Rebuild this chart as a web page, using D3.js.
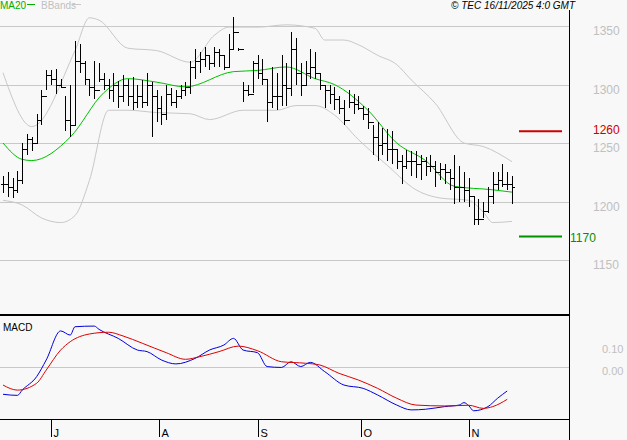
<!DOCTYPE html>
<html><head><meta charset="utf-8">
<script src="https://cdn.jsdelivr.net/npm/d3@7"></script>
<style>body{margin:0;background:#f8f8f8}svg{display:block}text{font-family:"Liberation Sans",Arial,sans-serif}</style>
</head><body><svg width="627" height="440"></svg>
<script>
// daily bars: [high, low, close]
const bars = [
 [1222,1207,1215],[1225,1204,1212],[1220,1203,1210],[1226,1207,1218],[1250,1215,1245],
 [1258,1240,1253],[1255,1243,1250],[1275,1250,1270],[1295,1265,1290],[1312,1295,1308],
 [1312,1300,1305],[1313,1292,1300],[1305,1297,1298],[1290,1260,1270],[1300,1255,1265],
 [1337,1265,1320],[1335,1310,1318],[1320,1300,1305],[1305,1290,1298],[1320,1288,1295],
 [1318,1302,1305],[1310,1295,1300],[1305,1288,1295],[1310,1285,1300],[1303,1280,1290],
 [1308,1285,1300],[1305,1282,1290],[1306,1278,1285],[1300,1280,1290],[1304,1280,1285],
 [1310,1282,1300],[1302,1255,1290],[1295,1268,1280],[1290,1265,1275],[1300,1270,1292],
 [1297,1282,1285],[1295,1280,1290],[1300,1288,1295],[1302,1290,1298],[1320,1292,1315],
 [1330,1305,1320],[1328,1310,1322],[1332,1315,1325],[1325,1312,1318],[1332,1315,1328],
 [1330,1315,1325],[1325,1312,1315],[1343,1315,1330],[1358,1330,1345],[1331,1329,1330],
 [1302,1285,1295],[1300,1290,1292],[1320,1293,1318],[1325,1305,1310],[1322,1300,1305],
 [1305,1268,1285],[1315,1280,1290],[1310,1278,1290],[1325,1282,1300],[1318,1282,1297],
 [1345,1290,1330],[1340,1300,1310],[1318,1290,1300],[1320,1300,1310],[1330,1305,1315],
 [1328,1305,1310],[1310,1295,1300],[1300,1280,1295],[1300,1283,1292],[1298,1278,1288],
 [1290,1275,1280],[1287,1265,1270],[1295,1280,1285],[1292,1275,1283],[1290,1278,1280],
 [1282,1270,1275],[1280,1262,1268],[1265,1240,1255],[1268,1235,1248],[1263,1240,1250],
 [1262,1235,1245],[1260,1232,1245],[1245,1228,1235],[1240,1215,1230],[1244,1228,1235],
 [1243,1222,1235],[1243,1220,1232],[1240,1218,1235],[1238,1222,1230],[1240,1225,1230],
 [1235,1212,1225],[1233,1218,1228],[1232,1215,1225],[1228,1210,1220],[1240,1198,1212],
 [1230,1200,1212],[1225,1200,1210],[1220,1195,1205],[1205,1180,1185],[1202,1180,1185],
 [1200,1186,1192],[1212,1190,1205],[1225,1198,1215],[1225,1210,1218],[1232,1212,1215],
 [1225,1210,1215],[1222,1198,1212]
];
// indicator lines: [bar index, value]
const ma20 = [[0,1250],[4,1236],[6,1235],[14,1255],[21,1293],[26,1305],[32,1302],[38,1298],[48,1311],[53,1312],[59,1315],[65,1305],[69,1300],[76,1278],[82,1250],[88,1235],[94,1213],[102,1210],[106,1208]];
const bbUpper = [[0,1310],[6,1264],[15,1329],[18,1357],[20,1355],[26,1331],[32,1329],[39,1319],[44,1342],[47,1349],[53,1349],[59,1351],[65,1348],[67,1338],[71,1338],[74,1334],[78,1325],[82,1317],[85,1304],[90,1284],[96,1250],[100,1247],[106,1234]];
const bbLower = [[0,1201],[4,1197],[8,1186],[12,1182],[15,1188],[18,1218],[22,1278],[26,1278],[32,1276],[39,1275],[43,1270],[50,1278],[57,1278],[61,1282],[65,1282],[69,1274],[74,1253],[80,1231],[86,1210],[91,1203],[97,1201],[100,1191],[102,1182],[106,1183]];
const macd = [[0,-12.4],[3,-12.9],[4,-10.5],[7,-4.4],[9,3.2],[12,16.4],[14,14.5],[15,18.3],[19,18.6],[20,17.1],[24,13.0],[28,7.7],[30,7.0],[33,3.2],[36,1.4],[40,3.9],[43,7.7],[46,10.0],[48,13.0],[50,7.7],[53,6.5],[55,0.2],[58,-0.2],[60,2.4],[62,0.2],[64,2.1],[67,-2.1],[71,-8.2],[75,-9.7],[78,-12.7],[82,-17.3],[85,-19.5],[88,-19.2],[92,-18.0],[95,-17.3],[96,-16.2],[97,-17.6],[98,-19.9],[101,-18.0],[103,-14.2],[105,-10.9]];
const signal = [[0,-8.2],[3,-10.5],[7,-7.4],[9,-1.4],[12,7.7],[14,11.5],[18,15.0],[22,15.8],[25,14.1],[29,10.8],[34,6.5],[38,3.5],[41,4.7],[45,7.0],[49,9.5],[53,7.4],[58,2.4],[63,1.7],[66,0.9],[70,-2.9],[74,-5.9],[78,-9.7],[82,-14.2],[86,-17.3],[92,-17.7],[97,-17.4],[100,-18.8],[102,-18.0],[105,-14.7]];
const priceTicks = [1150,1200,1250,1300,1350];
const macdTicks = [0, 10];
const months = [["J",10],["A",32.5],["S",53],["O",74.5],["N",97]];
const support = 1170, resistance = 1260;

const svg = d3.select("svg");
const plotR = 569;
const x = d3.scaleLinear().domain([0, 106]).range([3, 512]);
const y = d3.scaleLinear().domain([1150, 1350]).range([260, 26]);
const ym = d3.scaleLinear().domain([0, 10]).range([367, 345]);

// grid
svg.append("g").selectAll("line").data(priceTicks).join("line")
  .attr("x1", 0).attr("x2", plotR).attr("y1", d => Math.round(y(d)) + 0.5).attr("y2", d => Math.round(y(d)) + 0.5)
  .attr("stroke", "#c8c8c8");
svg.append("line").attr("x1", 0).attr("x2", plotR).attr("y1", ym(0) + 0.5).attr("y2", ym(0) + 0.5).attr("stroke", "#c8c8c8");

// price axis (right)
const ay = d3.axisRight(y).tickValues(priceTicks).tickSize(0).tickPadding(24).tickFormat(d3.format("d"));
svg.append("g").attr("transform", `translate(${plotR},5)`).call(ay)
  .call(g => g.select(".domain").remove())
  .selectAll("text").attr("fill", "#c0c0c0").style("font-size", "12px");
const am = d3.axisRight(ym).tickValues(macdTicks).tickSize(0).tickPadding(33)
  .tickFormat(d => d === 0 ? "0.00" : "0.10");
svg.append("g").attr("transform", `translate(${plotR},4)`).call(am)
  .call(g => g.select(".domain").remove())
  .selectAll("text").attr("fill", "#c0c0c0").style("font-size", "11px");

// bands and MA
const line = (ys) => d3.line().x(d => x(d[0])).y(d => ys(d[1])).curve(d3.curveMonotoneX);
svg.append("path").datum(bbUpper).attr("d", line(y)).attr("fill", "none").attr("stroke", "#c8c8c8");
svg.append("path").datum(bbLower).attr("d", line(y)).attr("fill", "none").attr("stroke", "#c8c8c8");
svg.append("path").datum(ma20).attr("d", line(y)).attr("fill", "none").attr("stroke", "#00c000");

// OHLC bars
const gb = svg.append("g").attr("stroke", "#000").attr("shape-rendering", "crispEdges");
bars.forEach((b, i) => {
  const open = i ? bars[i - 1][2] : b[2];
  const cx = Math.round(x(i)) + 0.5;
  gb.append("line").attr("x1", cx).attr("x2", cx).attr("y1", y(b[0])).attr("y2", y(b[1])).attr("stroke-width", 1.4);
  gb.append("line").attr("x1", cx - 2.5).attr("x2", cx).attr("y1", Math.round(y(open)) + 0.5).attr("y2", Math.round(y(open)) + 0.5);
  gb.append("line").attr("x1", cx).attr("x2", cx + 2.5).attr("y1", Math.round(y(b[2])) + 0.5).attr("y2", Math.round(y(b[2])) + 0.5);
});

// support / resistance
svg.append("line").attr("x1", 519).attr("x2", 562).attr("y1", y(resistance)).attr("y2", y(resistance)).attr("stroke", "#cc0000").attr("stroke-width", 2);
svg.append("text").attr("x", 593).attr("y", y(resistance) + 3).attr("fill", "#cc0000").style("font-size", "12px").text(resistance);
svg.append("line").attr("x1", 519).attr("x2", 562).attr("y1", y(support)).attr("y2", y(support)).attr("stroke", "#009000").attr("stroke-width", 2);
svg.append("text").attr("x", 570).attr("y", y(support) + 5).attr("fill", "#009000").style("font-size", "12px").text(support);

// MACD
svg.append("path").datum(macd).attr("d", line(ym)).attr("fill", "none").attr("stroke", "#0000dd");
svg.append("path").datum(signal).attr("d", line(ym)).attr("fill", "none").attr("stroke", "#dd0000");
svg.append("text").attr("x", 3).attr("y", 331).style("font-size", "10px").text("MACD");

// frame
svg.append("line").attr("x1", plotR + 0.5).attr("x2", plotR + 0.5).attr("y1", 10).attr("y2", 440).attr("stroke", "#000");
svg.append("line").attr("x1", 0).attr("x2", plotR).attr("y1", 315).attr("y2", 315).attr("stroke", "#000").attr("stroke-width", 2);
svg.append("line").attr("x1", 0).attr("x2", plotR).attr("y1", 419.5).attr("y2", 419.5).attr("stroke", "#000");
const gm = svg.append("g").selectAll("g").data(months).join("g")
  .attr("transform", d => `translate(${Math.round(x(d[1])) + 0.5},0)`);
gm.append("line").attr("y1", 420).attr("y2", 437).attr("stroke", "#000");
gm.append("text").attr("x", 2).attr("y", 437).style("font-size", "11px").text(d => d[0]);

// header
svg.append("text").attr("x", 0).attr("y", 9).attr("fill", "#00b000").style("font-size", "10px").text("MA20");
svg.append("line").attr("x1", 27).attr("x2", 35).attr("y1", 4.5).attr("y2", 4.5).attr("stroke", "#00b000");
svg.append("text").attr("x", 41).attr("y", 9).attr("fill", "#c0c0c0").style("font-size", "10px").text("BBands");
svg.append("line").attr("x1", 72).attr("x2", 81).attr("y1", 4.5).attr("y2", 4.5).attr("stroke", "#c8c8c8");
svg.append("text").attr("x", 575).attr("y", 9).attr("text-anchor", "end").style("font-size", "10px").style("font-style", "italic").text("© TEC 16/11/2025 4:0 GMT");
</script></body></html>
